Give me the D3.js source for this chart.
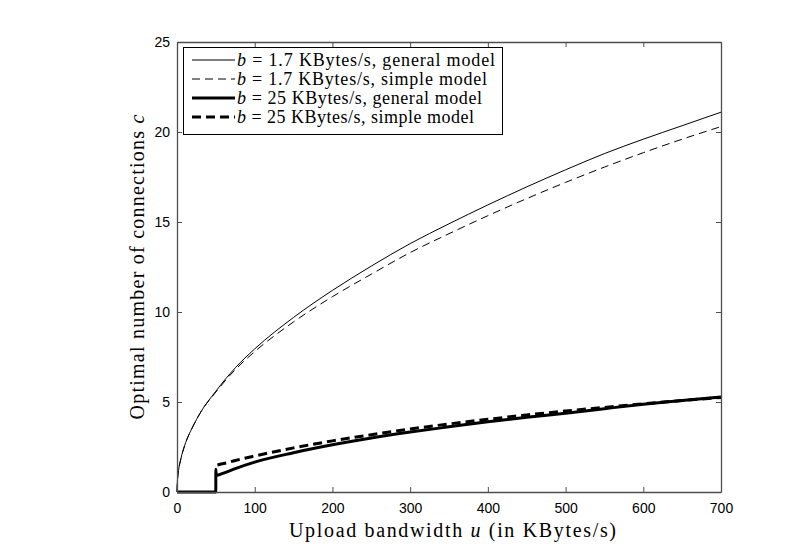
<!DOCTYPE html>
<html>
<head>
<meta charset="utf-8">
<script src="https://cdn.jsdelivr.net/npm/d3@7"></script>
<style>
  body { margin: 0; background: #fff; }
  svg { display: block; }
</style>
</head>
<body>
<div id="chart"></div>
<script>
// Values
const xTicks = [0, 100, 200, 300, 400, 500, 600, 700];
const yTicks = [0, 5, 10, 15, 20, 25];

const thinU = [0, 0.5, 1, 2, 5, 10, 20, 30, 50, 75, 100, 150, 200, 250, 300, 350, 400, 450, 500, 550, 600, 650, 700];
const thinGeneral = [0, 0.6, 0.85, 1.2, 1.85, 2.6, 3.6, 4.4, 5.6, 6.9, 7.95, 9.7, 11.2, 12.55, 13.8, 14.9, 15.95, 16.95, 17.9, 18.8, 19.6, 20.35, 21.1];
const thinSimple = [0, 0.6, 0.85, 1.2, 1.85, 2.6, 3.6, 4.4, 5.55, 6.8, 7.8, 9.45, 10.85, 12.1, 13.3, 14.35, 15.35, 16.3, 17.2, 18.05, 18.85, 19.6, 20.3];

const thickGenU = [0, 49.9, 50, 50.5, 60, 75, 100, 150, 200, 250, 300, 350, 400, 450, 500, 550, 600, 650, 700];
const thickGeneral = [0, 0, 1.26, 0.92, 1.05, 1.3, 1.66, 2.18, 2.62, 3.0, 3.33, 3.62, 3.9, 4.15, 4.38, 4.63, 4.87, 5.08, 5.28];
const thickSimU = [52, 60, 75, 100, 150, 200, 250, 300, 350, 400, 450, 500, 550, 600, 650, 700];
const thickSimple = [1.5, 1.58, 1.75, 2.0, 2.45, 2.84, 3.18, 3.5, 3.78, 4.04, 4.28, 4.5, 4.7, 4.9, 5.08, 5.25];

const legendLabels = [
  ['1.7', 'general model'],
  ['1.7', 'simple model'],
  ['25', 'general model'],
  ['25', 'simple model']
];
// measured widths of each legend text in the reference
const legendWidths = [258, 250, 245, 237];

const width = 797, height = 555;
const margin = { left: 177, right: 76, top: 42, bottom: 63 };

const svg = d3.select('#chart').append('svg')
  .attr('width', width)
  .attr('height', height);

const x = d3.scaleLinear().domain([0, 700]).range([margin.left, width - margin.right]);
const y = d3.scaleLinear().domain([0, 25]).range([height - margin.bottom, margin.top]);

const axisColor = '#4d4d4d';
const tickFont = '"Liberation Sans", Arial, sans-serif';
const serif = '"Liberation Serif", "Times New Roman", serif';

// series
const series = [
  { u: thinU, c: thinGeneral, w: 1, dash: null },
  { u: thinU, c: thinSimple, w: 1, dash: '8,5' },
  { u: thickGenU, c: thickGeneral, w: 3, dash: null },
  { u: thickSimU, c: thickSimple, w: 3, dash: '9,5' }
];

const line = d3.line()
  .x(d => x(d[0]))
  .y(d => y(d[1]))
  .curve(d3.curveMonotoneX);

svg.append('g').selectAll('path')
  .data(series)
  .enter()
  .append('path')
  .attr('d', s => line(s.u.map((u, i) => [u, s.c[i]])))
  .attr('fill', 'none')
  .attr('stroke', '#000')
  .attr('stroke-width', s => s.w)
  .attr('stroke-dasharray', s => s.dash)
  .attr('stroke-linejoin', 'round');

// axes: ticks inside on all four sides
const tickLen = 5;
const xBottom = svg.append('g')
  .attr('transform', `translate(0,${y(0)})`)
  .call(d3.axisBottom(x).tickValues(xTicks).tickSizeInner(-tickLen).tickSizeOuter(0).tickPadding(11));
const xTop = svg.append('g')
  .attr('transform', `translate(0,${y(25)})`)
  .call(d3.axisTop(x).tickValues(xTicks).tickSizeInner(-tickLen).tickSizeOuter(0).tickFormat(''));
const yLeft = svg.append('g')
  .attr('transform', `translate(${x(0)},0)`)
  .call(d3.axisLeft(y).tickValues(yTicks).tickSizeInner(-tickLen).tickSizeOuter(0).tickPadding(7));
const yRight = svg.append('g')
  .attr('transform', `translate(${x(700)},0)`)
  .call(d3.axisRight(y).tickValues(yTicks).tickSizeInner(-tickLen).tickSizeOuter(0).tickFormat(''));

[xBottom, xTop, yLeft, yRight].forEach(g => {
  g.select('.domain').attr('stroke', axisColor).attr('stroke-width', 1.3);
  g.selectAll('.tick line').attr('stroke', axisColor);
  g.selectAll('.tick text')
    .attr('fill', '#000')
    .style('font-family', tickFont)
    .style('font-size', '14px');
});

// axis titles
svg.append('text')
  .attr('x', 289)
  .attr('y', 537)
  .attr('textLength', 327)
  .attr('lengthAdjust', 'spacing')
  .style('font-family', serif)
  .style('font-size', '20px')
  .html('Upload bandwidth <tspan font-style="italic">u</tspan> (in KBytes/s)');

svg.append('text')
  .attr('transform', `translate(144,${(y(0) + y(25)) / 2}) rotate(-90)`)
  .attr('text-anchor', 'middle')
  .attr('textLength', 305)
  .attr('lengthAdjust', 'spacing')
  .style('font-family', serif)
  .style('font-size', '20px')
  .html('Optimal number of connections <tspan font-style="italic">c</tspan>');

// legend
const legend = svg.append('g');
legend.append('rect')
  .attr('x', 183.5).attr('y', 47.5)
  .attr('width', 319).attr('height', 87)
  .attr('fill', '#fff')
  .attr('stroke', '#000')
  .attr('stroke-width', 1);

const rows = legend.selectAll('g.row')
  .data(legendLabels)
  .enter()
  .append('g')
  .attr('class', 'row')
  .attr('transform', (d, i) => `translate(0,${60 + i * 19})`);

rows.append('line')
  .attr('x1', 192).attr('x2', 235)
  .attr('y1', 0).attr('y2', 0)
  .attr('stroke', '#000')
  .attr('stroke-width', (d, i) => series[i].w)
  .attr('stroke-dasharray', (d, i) => series[i].dash);

rows.append('text')
  .attr('x', 237)
  .attr('y', 5.5)
  .attr('textLength', (d, i) => legendWidths[i])
  .attr('lengthAdjust', 'spacing')
  .style('font-family', serif)
  .style('font-size', '18px')
  .html(d => `<tspan font-style="italic">b</tspan> = ${d[0]} KBytes/s, ${d[1]}`);
</script>
</body>
</html>
